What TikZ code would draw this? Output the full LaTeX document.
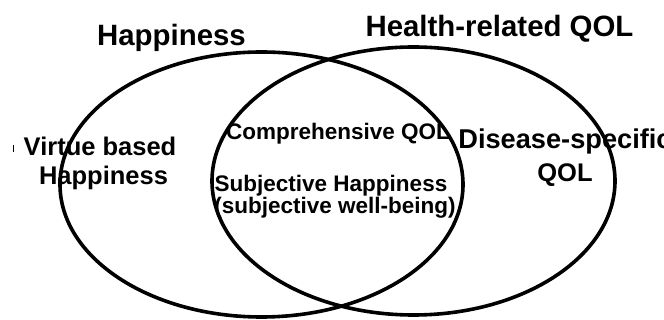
\documentclass[tikz,border=0pt]{standalone}
\usepackage{fontspec}
\setmainfont{Liberation Sans}
\begin{document}
\begin{tikzpicture}[x=1pt,y=-1pt,
  ring/.style={draw=black,line width=3.6pt},
  lbl/.style={inner sep=0pt,anchor=base,font=\bfseries},
  title/.style={lbl,font=\bfseries\fontsize{29.4}{29.4}\selectfont},
  side/.style={lbl,font=\bfseries\fontsize{25.5}{25.5}\selectfont},
  mid/.style={lbl,font=\bfseries\fontsize{22.5}{22.5}\selectfont}]
\useasboundingbox (0,0) rectangle (664,320);
\clip (0,0) rectangle (664,320);
\fill[white] (0,0) rectangle (664,320);

% the two overlapping sets
\draw[ring] (261.5,184.5) ellipse [x radius=201.5, y radius=132.5];
\draw[ring] (413.5,181) ellipse [x radius=201.5, y radius=134];

% set titles
\node[title] (happy) at (171.5,46) {Happiness};
\node[title] (hqol) at (499.5,37) {Health-related QOL};

% left-only region
\node[side] (virtue1) at (100,156) {Virtue based};
\node[side] (virtue2) at (103.5,185) {Happiness};
\draw[line width=1pt] (13,145) -- (13,152);

% overlap region
\node[mid] (comp) at (338,140) {Comprehensive QOL};
\node[mid] (subj1) at (331,191.5) {Subjective Happiness};
\node[mid] (subj2) at (335,214) {(subjective well-being)};

% right-only region
\node[side,font=\bfseries\fontsize{27.2}{27.2}\selectfont] (dis1) at (565,149) {Disease-specific};
\node[side] (dis2) at (565,182) {QOL};
\end{tikzpicture}
\end{document}
